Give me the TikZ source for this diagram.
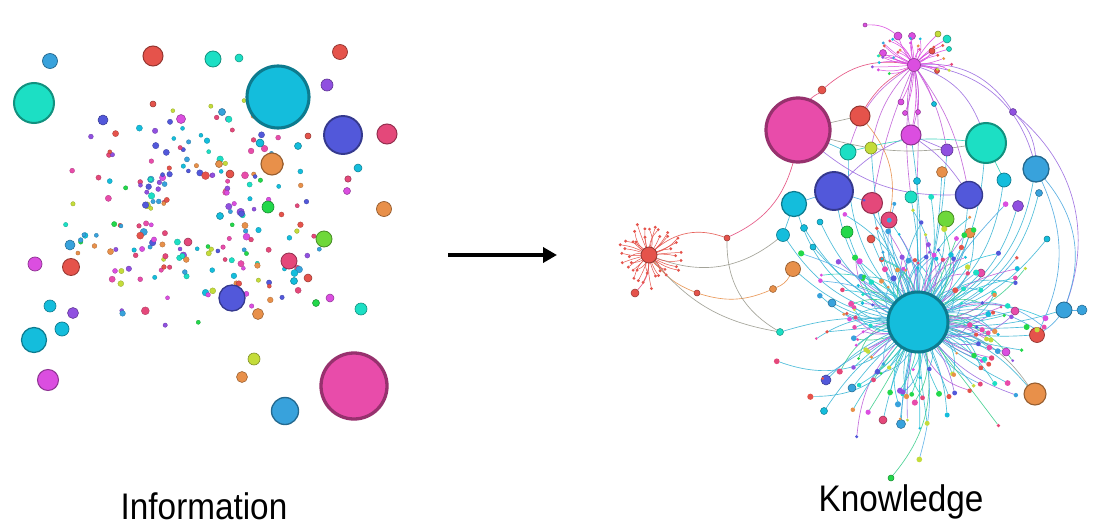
\documentclass[tikz,border=0pt]{standalone}
\usepackage{fontspec}
\setmainfont{Liberation Sans}
\usetikzlibrary{arrows.meta}
\pgfdeclarelayer{bg}
\pgfdeclarelayer{edges}
\pgfsetlayers{bg,edges,main}
\definecolor{cRed}{HTML}{E5534B}
\definecolor{cTeal}{HTML}{1CDFC4}
\definecolor{cCyan}{HTML}{14BDDC}
\definecolor{cBlue}{HTML}{38A2DC}
\definecolor{cIndigo}{HTML}{5258DA}
\definecolor{cMag}{HTML}{DB4EE0}
\definecolor{cPink}{HTML}{E84CAA}
\definecolor{cRose}{HTML}{E4487A}
\definecolor{cOrange}{HTML}{E8904A}
\definecolor{cGreen}{HTML}{22D84A}
\definecolor{cLime}{HTML}{6ED83A}
\definecolor{cYel}{HTML}{C4DC3A}
\definecolor{cPurple}{HTML}{9050E0}
\definecolor{cGray}{HTML}{9A9A8E}
\colorlet{pal1}{cRed}\colorlet{pal2}{cTeal}\colorlet{pal3}{cCyan}\colorlet{pal4}{cBlue}
\colorlet{pal5}{cIndigo}\colorlet{pal6}{cMag}\colorlet{pal7}{cPink}\colorlet{pal8}{cRose}
\colorlet{pal9}{cOrange}\colorlet{pal10}{cGreen}\colorlet{pal11}{cYel}\colorlet{pal12}{cPurple}
\definecolor{ec1}{HTML}{3AB6D6}\definecolor{ec2}{HTML}{2FC2DA}\definecolor{ec3}{HTML}{4AA8E0}
\definecolor{ec4}{HTML}{35BFD0}\definecolor{ec5}{HTML}{3AB6D6}\definecolor{ec6}{HTML}{58B0E8}
\definecolor{ec7}{HTML}{3CCF8C}\definecolor{ec8}{HTML}{9A6AE0}\definecolor{ec9}{HTML}{2BD0B8}
\definecolor{ec10}{HTML}{C060D8}
\tikzset{
  bub/.style={circle, inner sep=0pt, outer sep=0pt},
  lnk/.style={line width=0.65pt, opacity=0.9},
}
\newcommand\B[5]{\node[bub, fill=#5, draw=#5!65!black, line width={max(0.5,0.1*#4)*1pt}, minimum size={2*#4*1pt}] (#1) at (#2,#3) {};}
\begin{document}
\begin{tikzpicture}[x=1pt,y=-1pt]
\useasboundingbox (0,0) rectangle (1100,527);
\begin{pgfonlayer}{bg}
\fill[white] (0,0) rectangle (1100,527);
\end{pgfonlayer}
% ---------- left: scattered information ----------
\pgfmathsetseed{7}
\foreach \i in {1,...,200}{
  \pgfmathsetmacro\ang{rnd*360}
  \pgfmathsetmacro\rad{30+rnd*96}
  \pgfmathsetmacro\px{196+1.05*\rad*cos(\ang)}
  \pgfmathsetmacro\py{212+\rad*sin(\ang)}
  \pgfmathsetmacro\sz{2+2.2*rnd*rnd}
  \pgfmathrandominteger{\cc}{1}{12}
  \node[bub, fill=pal\cc, draw=pal\cc!75!black, line width=0.3pt, minimum size={2*\sz*1pt}] (ld\i) at (\px,\py) {};
}
\B{L1}{50}{61}{7.5}{cBlue}
\B{L2}{34}{103}{20}{cTeal}
\B{L3}{153}{56}{10}{cRed}
\B{L4}{213}{59}{8}{cTeal}
\B{L5}{239}{58}{4}{cTeal}
\B{L6}{340}{52}{7.5}{cRed}
\B{L7}{278}{97}{31}{cCyan}
\B{L8}{327}{85}{6}{cPurple}
\B{L9}{343}{135}{19}{cIndigo}
\B{L10}{387}{134}{10}{cRose}
\B{L11}{272}{164}{11}{cOrange}
\B{L12}{358}{168}{4}{cCyan}
\B{L13}{348}{179}{3.2}{cRose}
\B{L14}{347}{191}{3.5}{cMag}
\B{L15}{384}{209}{7.5}{cOrange}
\B{L16}{268}{207}{6}{cGreen}
\B{L17}{324}{239}{8}{cLime}
\B{L18}{289}{261}{8}{cRose}
\B{L19}{232}{298}{13}{cIndigo}
\B{L20}{70}{245}{5}{cBlue}
\B{L21}{35}{264}{7}{cMag}
\B{L22}{71}{267}{8.5}{cRed}
\B{L23}{50}{306}{6}{cCyan}
\B{L24}{73}{313}{5.5}{cPurple}
\B{L25}{62}{329}{7}{cCyan}
\B{L26}{34}{340}{12.5}{cCyan}
\B{L27}{48}{380}{10.5}{cMag}
\B{L28}{254}{359}{6}{cYel}
\B{L29}{242}{377}{5.5}{cOrange}
\B{L30}{354}{386}{33}{cPink}
\B{L31}{285}{411}{13.5}{cBlue}
\B{L32}{361}{309}{6}{cTeal}
\B{L33}{330}{298}{4}{cMag}
\B{L34}{316}{303}{3.5}{cGreen}
\B{L35}{308}{278}{4}{cRed}
\B{L36}{294}{281}{3.5}{cCyan}
\B{L37}{258}{314}{5.5}{cOrange}
\B{L38}{188}{242}{4}{cRose}
\B{L39}{220}{216}{3.5}{cCyan}
\B{L40}{230}{174}{4}{cRed}
\B{L41}{219}{164}{3.5}{cOrange}
\B{L42}{181}{119}{4.5}{cMag}
\B{L43}{103}{120}{5}{cIndigo}
\B{L44}{222}{112}{3.5}{cBlue}
\B{L45}{260}{143}{4}{cCyan}
\B{L46}{298}{146}{3.5}{cCyan}
\B{L47}{308}{136}{3}{cRed}
\B{L48}{153}{104}{3}{cRed}
% ---------- arrow ----------
\coordinate (aS) at (448,255);
\coordinate (aE) at (557,255);
\draw[line width=4pt, -{Triangle[length=14pt,width=15pt]}] (aS) -- (aE);
% ---------- right: knowledge graph ----------
\B{mh}{914}{65}{6.5}{cMag}
\B{pk}{798}{130}{32}{cPink}
\B{rA}{860}{116}{10}{cRed}
\B{rB}{822}{90}{4}{cRed}
\B{mg}{911}{135}{10}{cMag}
\B{tl}{986}{143}{20}{cTeal}
\B{bl}{1036}{169}{13}{cBlue}
\B{tA}{848}{152}{8}{cTeal}
\B{lm}{871}{148}{6}{cYel}
\B{pu}{947}{150}{6}{cPurple}
\B{iA}{834}{191}{19}{cIndigo}
\B{cA}{794}{204}{12.5}{cCyan}
\B{rsA}{872}{203}{10.5}{cRose}
\B{rsB}{889}{220}{8}{cRose}
\B{tB}{911}{197}{6}{cTeal}
\B{oA}{942}{172}{5.5}{cOrange}
\B{cB}{917}{181}{3.5}{cCyan}
\B{iB}{969}{195}{13.5}{cIndigo}
\B{cC}{1004}{180}{7}{cCyan}
\B{pB}{1018}{206}{5.5}{cPurple}
\B{gL}{946}{219}{8}{cLime}
\B{gA}{847}{232}{6}{cGreen}
\B{cD}{783}{235}{6.5}{cCyan}
\B{oB}{793}{269}{7.5}{cOrange}
\B{oC}{970}{233}{5}{cOrange}
\B{rC}{871}{239}{4}{cRed}
\B{rh}{649}{255}{8}{cRed}
\B{rD}{727}{238}{3}{cRed}
\B{rE}{635}{293}{4}{cRed}
\B{oD}{773}{289}{3.5}{cOrange}
\B{rF}{697}{293}{3}{cRed}
\B{hc}{918}{322}{30}{cCyan}
\B{bA}{1064}{310}{8}{cBlue}
\B{bB}{1082}{310}{5}{cBlue}
\B{rG}{1037}{335}{7.5}{cRed}
\B{oE}{1035}{394}{11}{cOrange}
\B{pkA}{1015}{311}{4}{cPink}
\B{mA}{1006}{352}{4}{cMag}
\B{pC}{826}{380}{5}{cIndigo}
\B{cE}{852}{388}{4}{cBlue}
\B{pkB}{883}{420}{4}{cRose}
\B{bC}{901}{424}{4.5}{cBlue}
\B{gB}{891}{478}{3}{cGreen}
\B{cF}{824}{411}{3.5}{cCyan}
\B{tC}{780}{332}{3.5}{cTeal}
\B{pD}{1013}{112}{3.5}{cPurple}
\B{cG}{1039}{193}{3.5}{cBlue}
\B{pkC}{981}{273}{4}{cPink}
\B{cH}{832}{303}{4}{cBlue}
\B{cI}{934}{104}{2.5}{cCyan}
\B{cJ}{804}{228}{3.5}{cCyan}
\B{cK}{820}{222}{3}{cCyan}
\B{cL}{813}{247}{3}{cCyan}
\B{cM}{1047}{239}{3}{cCyan}
\B{m1}{898}{36}{4}{cMag}
\B{m2}{912}{36}{3.5}{cMag}
\B{m3}{883}{53}{3.5}{cMag}
\B{m4}{932}{51}{3}{cRed}
\B{m5}{938}{34}{3}{cYel}
\B{m6}{947}{39}{4}{cTeal}
\B{m7}{949}{49}{2.5}{cTeal}
\B{m8}{865}{25}{2}{cMag}
\B{m9}{937}{71}{2.5}{cRed}
\B{m10}{901}{102}{3}{cMag}
\B{m11}{905}{113}{2.5}{cMag}
\B{m12}{918}{112}{2.5}{cMag}
% long connectors
\begin{pgfonlayer}{edges}
\draw[lnk, cRose] (mh) to[bend right=25] (rB);
\draw[lnk, cRose] (rB) to[bend right=10] (pk);
\draw[lnk, cRose] (mh) to[bend right=15] (rA);
\foreach \t in {m10,m11,m12,mg,cI,m1,m2,m3,m4,m5,m6,m7,m9}{\draw[lnk, cMag] (mh) to[bend left=8] (\t);}
\foreach \t/\b in {mg/-12,mg/14,pu/10,tB/-8,iB/12,tA/-20,lm/-15,rsA/-6,cB/4}{\draw[lnk, ec10] (mh) to[bend left=\b] (\t);}
\draw[lnk, cMag] (m8) to[bend left=20] (m1);
\draw[lnk, ec8] (mh) to[bend left=30] (pD);
\draw[lnk, ec8] (mh) to[bend left=35] (bl);
\draw[lnk, ec8] (mh) to[bend left=25] (tl);
\draw[lnk, ec8] (pD) to[bend left=20] (bl);
\draw[lnk, ec8] (pD) to[bend left=35] (bA);
\draw[lnk, ec3] (bl) to[bend left=30] (bA);
\draw[lnk, ec3] (bA) -- (bB);
\draw[lnk, cGray] (pk) to[bend right=12] (tl);
\draw[lnk, cGray] (pk) to (rA);
\draw[lnk, ec1] (pk) to (tA);
\draw[lnk, cOrange] (rA) to[bend left=25] (rsB);
\draw[lnk, cRed] (rh) to[bend left=30] (rD);
\draw[lnk, cRose] (rD) to[bend right=25] (pk);
\draw[lnk, cGray] (rh) to[bend right=30] (cD);
\draw[lnk, cOrange] (rh) to[bend right=15] (rF);
\draw[lnk, cOrange] (rF) to[bend right=20] (oD);
\draw[lnk, cOrange] (oD) to[bend right=20] (oB);
\draw[lnk, cGray] (rh) to[bend right=20] (tC);
\draw[lnk, cGray] (rD) to[bend right=30] (tC);
\draw[lnk, cRose] (rh) to[bend left=20] (rE);
\draw[lnk, ec1] (tC) to[bend left=10] (hc);
\foreach \t/\b in {iA/-20,cA/-25,rsA/-10,rsB/-8,tB/5,iB/15,gL/10,gA/-15,cC/20,pB/20,oC/10,rC/-5,cD/-20,oB/-15,bA/10,rG/8,oE/-15,pkA/5,mA/5,cG/25,pkC/5,cH/-10,mg/5,tl/15,bl/25,tA/-20,lm/-10,pu/5,oA/5,cB/0,cJ/-15,cK/-15,cL/-10,cM/15,pC/10,cE/5,pkB/5,bC/5,cF/10}{
  \draw[lnk, ec1] (\t) to[bend left=\b] (hc);}
\draw[lnk, ec7] (gB) to[bend right=25] (hc);
\draw[lnk, ec1] (cD) -- (cA);
\draw[lnk, ec3] (cA) -- (iA);
\draw[lnk, ec3] (iA) -- (rsA);
\draw[lnk, ec8] (mg) -- (pu);
\draw[lnk, ec8] (mg) to[bend left=10] (iB);
\draw[lnk, ec8] (mg) to[bend right=10] (iA);
\draw[lnk, ec9] (tl) -- (cC);
\draw[lnk, ec8] (pk) to[bend right=20] (iB);
\draw[lnk, ec9] (tA) to[bend left=10] (tl);
\draw[lnk, ec3] (bl) to[bend left=25] (rG);
\draw[lnk, cGray] (oE) to[bend right=20] (hc);
\draw[lnk, ec3] (rG) to[bend right=10] (bA);
\end{pgfonlayer}
% spokes around the big hub
\pgfmathsetseed{42}
\foreach \i in {1,...,170}{
  \pgfmathsetmacro\ang{rnd*360}
  \pgfmathsetmacro\len{45+rnd*rnd*90+rnd*30}
  \pgfmathsetmacro\px{918+\len*cos(\ang)}
  \pgfmathsetmacro\py{322+\len*sin(\ang)}
  \pgfmathsetmacro\sz{1.4+1.7*rnd}
  \pgfmathsetmacro\bd{rnd*60-30}
  \pgfmathrandominteger{\cc}{1}{12}
  \pgfmathrandominteger{\ee}{1}{10}
  \node[bub, fill=pal\cc, minimum size={2*\sz*1pt}] (hs\i) at (\px,\py) {};
  \begin{pgfonlayer}{edges}
  \draw[lnk, ec\ee] (hc) to[bend left=\bd] (hs\i);
  \end{pgfonlayer}
}
% spokes around the red hub
\foreach \i in {1,...,40}{
  \pgfmathsetmacro\ang{\i*9+rnd*6}
  \pgfmathsetmacro\len{17+rnd*17}
  \pgfmathsetmacro\px{649+\len*cos(\ang)}
  \pgfmathsetmacro\py{255+\len*sin(\ang)}
  \pgfmathsetmacro\bd{rnd*36-18}
  \node[bub, fill=cRed, minimum size=3.2pt] (rs\i) at (\px,\py) {};
  \begin{pgfonlayer}{edges}
  \draw[cRed, line width=0.5pt] (rh) to[bend left=\bd] (rs\i);
  \end{pgfonlayer}
}
% spokes around the magenta hub
\foreach \i in {1,...,26}{
  \pgfmathsetmacro\ang{150+rnd*240}
  \pgfmathsetmacro\len{16+rnd*26}
  \pgfmathsetmacro\px{914+\len*cos(\ang)}
  \pgfmathsetmacro\py{65+0.8*\len*sin(\ang)}
  \pgfmathsetmacro\bd{rnd*40-20}
  \pgfmathrandominteger{\cc}{1}{12}
  \node[bub, fill=pal\cc, minimum size=3.2pt] (ms\i) at (\px,\py) {};
  \begin{pgfonlayer}{edges}
  \draw[cMag, line width=0.5pt] (mh) to[bend left=\bd] (ms\i);
  \end{pgfonlayer}
}
% ---------- captions ----------
\node[anchor=base, xscale=0.9, font=\fontsize{37}{40}\selectfont] (info) at (204,519) {Information};
\node[anchor=base, xscale=0.9, font=\fontsize{37}{40}\selectfont] (know) at (901,511) {Knowledge};
\end{tikzpicture}
\end{document}
